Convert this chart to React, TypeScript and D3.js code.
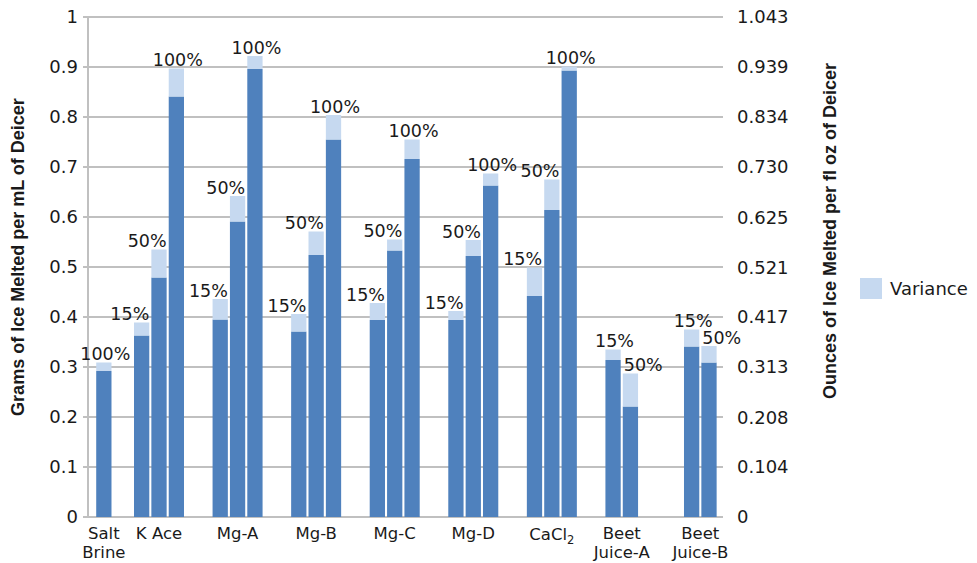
import React from "react";
import * as d3 from "d3";

// Deicer products along the x axis
const categories = [
  "Salt Brine",
  "K Ace",
  "Mg-A",
  "Mg-B",
  "Mg-C",
  "Mg-D",
  "CaCl2",
  "Beet Juice-A",
  "Beet Juice-B",
];

// Concentration levels tested per product
const concentrations = ["15%", "50%", "100%"];

// Grams of ice melted per mL of deicer (null = not tested)
const melt15 = [null, 0.363, 0.395, 0.371, 0.394, 0.394, 0.442, 0.314, 0.341];
const melt50 = [null, 0.479, 0.591, 0.524, 0.533, 0.522, 0.614, 0.221, 0.309];
const melt100 = [0.292, 0.841, 0.896, 0.755, 0.716, 0.663, 0.893, null, null];

// Variance stacked on top of each measurement
const variance15 = [null, 0.026, 0.041, 0.035, 0.034, 0.018, 0.057, 0.021, 0.034];
const variance50 = [null, 0.056, 0.051, 0.047, 0.022, 0.032, 0.061, 0.066, 0.033];
const variance100 = [0.017, 0.056, 0.026, 0.049, 0.039, 0.024, 0.008, null, null];

// Axis ticks
const leftTicks = [0, 0.1, 0.2, 0.3, 0.4, 0.5, 0.6, 0.7, 0.8, 0.9, 1];
const rightTickLabels = [
  "0", "0.104", "0.208", "0.313", "0.417", "0.521", "0.625", "0.730", "0.834", "0.939", "1.043",
];

const W = 977;
const H = 563;
const plot = { left: 88, right: 723, top: 17, bottom: 517 };

const DARK = "#4F81BD";
const LIGHT = "#C6D9F0";
const GRID = "#C0C0C0";
const TEXT = "#1a1a1a";
const TICK_FONT = "'DejaVu Sans', Verdana, sans-serif";
const TITLE_FONT = "'Liberation Sans', Arial, sans-serif";

const melts = [melt15, melt50, melt100];
const variances = [variance15, variance50, variance100];

type Bar = {
  cat: string;
  ci: number;
  conc: string;
  value: number;
  variance: number;
  x: number;
  w: number;
  groupSize: number;
};

export default function App() {
  const y = d3.scaleLinear().domain([0, 1]).range([plot.bottom, plot.top]);
  const yRight = d3.scaleLinear().domain([0, 1.043]).range([plot.bottom, plot.top]);

  // Grouped products share one band per product; the single-bar brine sits in
  // the narrower strip between the axis and the first group.
  const groupStart = 119.7;
  const groupStep = 78.57;
  const grouped = categories.slice(1);
  const xGroup = d3
    .scaleBand<string>()
    .domain(grouped)
    .range([groupStart, groupStart + groupStep * grouped.length])
    .paddingInner(0)
    .paddingOuter(0);
  const xInner = d3
    .scaleBand<string>()
    .domain(concentrations)
    .range([14.3, 64.3])
    .paddingInner(0.12);
  const xSolo = d3.scaleBand<string>().domain([categories[0]]).range([plot.left, groupStart]);

  const bars: Bar[] = [];
  categories.forEach((cat, ci) => {
    const present = concentrations
      .map((c, si) => ({ c, si, v: melts[si][ci], va: variances[si][ci] }))
      .filter((d) => d.v != null);
    present.forEach((d) => {
      let x: number;
      if (ci === 0) {
        const b = xSolo(cat)!;
        x = b + (xSolo.bandwidth() - xInner.bandwidth()) / 2;
      } else {
        x = xGroup(cat)! + xInner(d.c)!;
      }
      bars.push({
        cat,
        ci,
        conc: d.c,
        value: d.v as number,
        variance: (d.va as number) || 0,
        x,
        w: xInner.bandwidth(),
        groupSize: present.length,
      });
    });
  });

  const catCenter = (cat: string) => {
    const bs = bars.filter((b) => b.cat === cat);
    const x0 = d3.min(bs, (b) => b.x)!;
    const x1 = d3.max(bs, (b) => b.x + b.w)!;
    return (x0 + x1) / 2;
  };

  const labelPlacement = (b: Bar) => {
    const top = y(b.value + b.variance) - 2.5;
    if (b.groupSize === 3 && b.conc !== "100%") {
      return { x: b.x + b.w, anchor: "end", y: top };
    }
    if (b.groupSize === 2 && b.conc === "50%") {
      return { x: b.x + 1, anchor: "start", y: top };
    }
    return { x: b.x + b.w / 2 + 1.5, anchor: "middle", y: top };
  };

  const renderCatLabel = (cat: string) => {
    const cx = catCenter(cat);
    const base = 538.5;
    const fs = 16.5;
    if (cat === "CaCl2") {
      return (
        <text key={cat} x={cx} y={base + 1} textAnchor="middle" fontSize={fs} fontFamily={TICK_FONT} fill={TEXT}>
          CaCl
          <tspan fontSize={11.5} dy={4}>2</tspan>
        </text>
      );
    }
    const split = cat.includes(" ") && cat !== "K Ace";
    const lines = split ? [cat.slice(0, cat.indexOf(" ")), cat.slice(cat.indexOf(" ") + 1)] : [cat];
    return (
      <g key={cat}>
        {lines.map((p, i) => (
          <text
            key={i}
            x={cx}
            y={base + i * 19.5}
            textAnchor="middle"
            fontSize={fs}
            fontFamily={TICK_FONT}
            fill={TEXT}
          >
            {p}
          </text>
        ))}
      </g>
    );
  };

  return (
    <svg
      width={W}
      height={H}
      viewBox={`0 0 ${W} ${H}`}
      style={{ position: "absolute", left: 0, top: 0, background: "#fff" }}
    >
      <rect x={0} y={0} width={W} height={H} fill="#fff" />

      {/* horizontal gridlines */}
      {leftTicks.map((t) => (
        <line
          key={"g" + t}
          x1={plot.left - 5}
          x2={plot.right}
          y1={y(t)}
          y2={y(t)}
          stroke={GRID}
          strokeWidth={2}
        />
      ))}
      {/* left axis line */}
      <line x1={plot.left} x2={plot.left} y1={plot.top} y2={plot.bottom} stroke={GRID} strokeWidth={2} />

      {/* bars: measured value with variance stacked above */}
      {bars.map((b, i) => (
        <g key={"b" + i}>
          <rect x={b.x} y={y(b.value)} width={b.w} height={y(0) - y(b.value)} fill={DARK} />
          <rect
            x={b.x}
            y={y(b.value + b.variance)}
            width={b.w}
            height={y(b.value) - y(b.value + b.variance)}
            fill={LIGHT}
          />
        </g>
      ))}

      {/* concentration labels */}
      {bars.map((b, i) => {
        const p = labelPlacement(b);
        return (
          <text
            key={"l" + i}
            x={p.x}
            y={p.y}
            textAnchor={p.anchor as any}
            fontSize={17.5}
            fontFamily={TICK_FONT}
            fill={TEXT}
          >
            {b.conc}
          </text>
        );
      })}

      {/* left tick labels */}
      {leftTicks.map((t) => (
        <text
          key={"lt" + t}
          x={78}
          y={y(t)}
          dy="0.35em"
          textAnchor="end"
          fontSize={18}
          fontFamily={TICK_FONT}
          fill={TEXT}
        >
          {d3.format("~g")(t)}
        </text>
      ))}

      {/* right tick labels */}
      {rightTickLabels.map((s) => (
        <text
          key={"rt" + s}
          x={737}
          y={yRight(+s)}
          dy="0.35em"
          textAnchor="start"
          fontSize={18}
          fontFamily={TICK_FONT}
          fill={TEXT}
        >
          {s}
        </text>
      ))}

      {/* category labels */}
      {categories.map(renderCatLabel)}

      {/* axis titles */}
      <text
        transform={`translate(24, ${(plot.top + plot.bottom) / 2 - 10}) rotate(-90)`}
        textAnchor="middle"
        fontSize={18}
        fontWeight="bold"
        fontFamily={TITLE_FONT}
        fill={TEXT}
      >
        Grams of Ice Melted per mL of Deicer
      </text>
      <text
        transform={`translate(836, ${231}) rotate(-90)`}
        textAnchor="middle"
        fontSize={18}
        fontWeight="bold"
        fontFamily={TITLE_FONT}
        fill={TEXT}
      >
        Ounces of Ice Melted per fl oz of Deicer
      </text>

      {/* legend */}
      <rect x={860} y={278} width={22} height={21} fill={LIGHT} />
      <text x={890} y={289} dy="0.35em" fontSize={18} fontFamily={TICK_FONT} fill={TEXT}>
        Variance
      </text>
    </svg>
  );
}
